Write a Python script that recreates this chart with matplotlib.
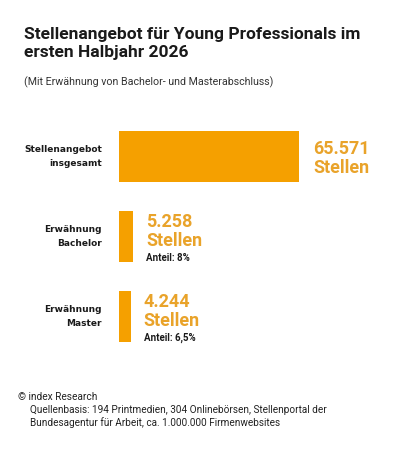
import matplotlib
matplotlib.use("Agg")
import matplotlib.pyplot as plt

categories = ["Stellenangebot\ninsgesamt", "Erwähnung\nBachelor", "Erwähnung\nMaster"]
values = [65571, 5258, 4244]
value_labels = ["65.571\nStellen", "5.258\nStellen", "4.244\nStellen"]
share_labels = [None, "Anteil: 8%", "Anteil: 6,5%"]

title = "Stellenangebot für Young Professionals im\nersten Halbjahr 2026"
subtitle = "(Mit Erwähnung von Bachelor- und Masterabschluss)"
source1 = "© index Research"
source2 = ("Quellenbasis: 194 Printmedien, 304 Onlinebörsen, Stellenportal der\n"
           "Bundesagentur für Arbeit, ca. 1.000.000 Firmenwebsites")

BAR = "#F5A000"
VAL = "#E9A32A"
DARK = "#1a1a1a"

W, H = 404, 450
fig = plt.figure(figsize=(W / 100, H / 100), dpi=100)
fig.patch.set_facecolor("white")

ax = fig.add_axes([119 / W, (H - 356.5) / H, 285 / W, 240 / H])
ax.set_xlim(0, 65571 * 285 / 180)
ax.set_ylim(2.5, -0.5)
ax.axis("off")

bh = 0.64
ypos = list(range(len(values)))
ax.barh(ypos, values, height=bh, color=BAR)

for i, (v, lab, vl, sl) in enumerate(zip(values, categories, value_labels, share_labels)):
    ax.annotate(lab, xy=(0, i), xytext=(-17, 0), textcoords="offset pixels",
                ha="right", va="center", fontsize=6.5, fontweight="bold",
                family="DejaVu Sans", color=DARK, linespacing=1.6)
    if sl is None:
        ax.annotate(vl, xy=(v, i), xytext=(14, -2), textcoords="offset pixels",
                    ha="left", va="center", fontsize=13.0, fontweight="bold",
                    family="Roboto", color=VAL, linespacing=1.05)
    else:
        ax.annotate(vl, xy=(v, i - bh / 2), xytext=(13, -2), textcoords="offset pixels",
                    ha="left", va="top", fontsize=13.0, fontweight="bold",
                    family="Roboto", color=VAL, linespacing=1.05)
        ax.annotate(sl, xy=(v, i + bh / 2), xytext=(13, -1), textcoords="offset pixels",
                    ha="left", va="bottom", fontsize=7.0, fontweight="bold",
                    family="Roboto", color=DARK)

fig.text(24 / W, 1 - 27 / H, title, ha="left", va="top", fontsize=12.5,
         fontweight="bold", family="Roboto", color=DARK, linespacing=1.25)
fig.text(24 / W, 1 - 76 / H, subtitle, ha="left", va="top", fontsize=7.7,
         family="Roboto", color="#333333")
fig.text(18 / W, 1 - 392 / H, source1, ha="left", va="top", fontsize=7.3,
         family="Roboto", color="#222222")
fig.text(30 / W, 1 - 405 / H, source2, ha="left", va="top", fontsize=7.2,
         family="Roboto", color="#222222", linespacing=1.25)

fig.savefig("out.png", dpi=100, facecolor="white")
